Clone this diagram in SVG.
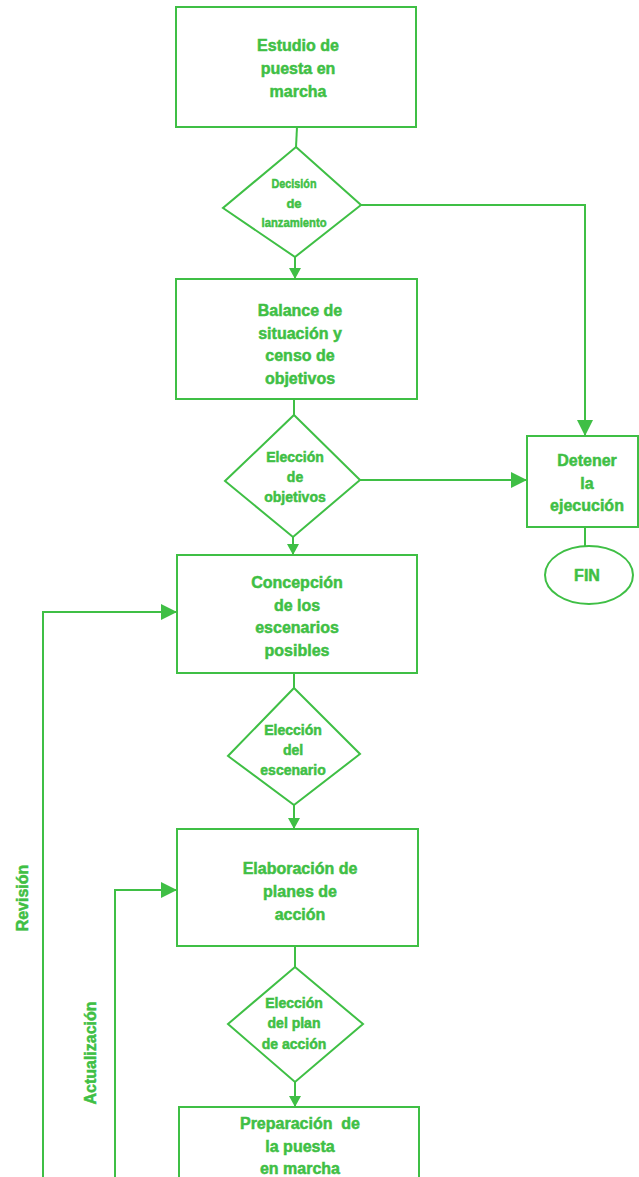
<svg xmlns="http://www.w3.org/2000/svg" width="639" height="1177" viewBox="0 0 639 1177">
<style>
.shape{fill:none;stroke:#3fbf45;stroke-width:2}
.line{fill:none;stroke:#3fbf45;stroke-width:2}
.t{font-family:"Liberation Sans",Arial,sans-serif;font-weight:bold;fill:#3fbf45;stroke:#3fbf45;stroke-width:0.5;text-anchor:middle}
.b{font-size:16px}
.d{font-size:14px}
.s{font-size:13px}
</style>
<defs>
<marker id="aS" markerUnits="userSpaceOnUse" markerWidth="12" markerHeight="12" refX="11" refY="6" orient="auto">
<path d="M0,0 L11,6 L0,12 Z" fill="#3fbf45"/>
</marker>
<marker id="aL" markerUnits="userSpaceOnUse" markerWidth="17" markerHeight="16" refX="16" refY="8" orient="auto">
<path d="M0,0 L16,8 L0,16 Z" fill="#3fbf45"/>
</marker>
</defs>
<rect width="639" height="1177" fill="#ffffff"/>
<g id="connectors">
<path class="line" d="M297,127 L296,147"/>
<path class="line" d="M295,257 L295,279" marker-end="url(#aS)"/>
<path class="line" d="M361,205 L585,205 L585,436" marker-end="url(#aL)"/>
<path class="line" d="M294,399 L294,415"/>
<path class="line" d="M293,537 L293,555" marker-end="url(#aS)"/>
<path class="line" d="M360,480 L527,480" marker-end="url(#aL)"/>
<path class="line" d="M585,527 L585,546"/>
<path class="line" d="M294,673 L294,688"/>
<path class="line" d="M294,805 L294,829" marker-end="url(#aS)"/>
<path class="line" d="M295,946 L295,967"/>
<path class="line" d="M295,1082 L295,1107" marker-end="url(#aS)"/>
<path class="line" d="M43,1180 L43,612 L177,612" marker-end="url(#aL)"/>
<path class="line" d="M115,1180 L115,890 L177,890" marker-end="url(#aL)"/>
</g>
<g id="n-estudio">
<rect class="shape" x="176" y="7" width="240" height="120"/>
<text class="t b" x="298" y="51">Estudio de</text>
<text class="t b" x="298" y="74">puesta en</text>
<text class="t b" x="298" y="97">marcha</text>
</g>
<g id="n-decision">
<polygon class="shape" points="296,147 361,205 295,257 223,208"/>
<text class="t s" x="294" y="188" textLength="45" lengthAdjust="spacingAndGlyphs">Decisión</text>
<text class="t s" x="294" y="208">de</text>
<text class="t s" x="294" y="227" textLength="65" lengthAdjust="spacingAndGlyphs">lanzamiento</text>
</g>
<g id="n-balance">
<rect class="shape" x="176" y="279" width="241" height="120"/>
<text class="t b" x="300" y="316">Balance de</text>
<text class="t b" x="300" y="339">situación y</text>
<text class="t b" x="300" y="361">censo de</text>
<text class="t b" x="300" y="384">objetivos</text>
</g>
<g id="n-eleccion-obj">
<polygon class="shape" points="294,415 360,480 293,537 225,481"/>
<text class="t d" x="295" y="462">Elección</text>
<text class="t d" x="295" y="482">de</text>
<text class="t d" x="295" y="502">objetivos</text>
</g>
<g id="n-detener">
<rect class="shape" x="527" y="436" width="111" height="91"/>
<text class="t b" x="587" y="466">Detener</text>
<text class="t b" x="587" y="489">la</text>
<text class="t b" x="587" y="511">ejecución</text>
</g>
<g id="n-fin">
<ellipse class="shape" cx="589" cy="575" rx="44" ry="29"/>
<text class="t b" x="587" y="581">FIN</text>
</g>
<g id="n-concepcion">
<rect class="shape" x="177" y="555" width="240" height="118"/>
<text class="t b" x="297" y="588">Concepción</text>
<text class="t b" x="297" y="611">de los</text>
<text class="t b" x="297" y="633">escenarios</text>
<text class="t b" x="297" y="656">posibles</text>
</g>
<g id="n-eleccion-esc">
<polygon class="shape" points="294,688 360,754 294,805 228,756"/>
<text class="t d" x="293" y="735">Elección</text>
<text class="t d" x="293" y="755">del</text>
<text class="t d" x="293" y="775">escenario</text>
</g>
<g id="n-elaboracion">
<rect class="shape" x="177" y="829" width="241" height="117"/>
<text class="t b" x="300" y="874">Elaboración de</text>
<text class="t b" x="300" y="897">planes de</text>
<text class="t b" x="300" y="920">acción</text>
</g>
<g id="n-eleccion-plan">
<polygon class="shape" points="295,967 363,1024 295,1082 228,1024"/>
<text class="t d" x="294" y="1008">Elección</text>
<text class="t d" x="294" y="1028">del plan</text>
<text class="t d" x="294" y="1049">de acción</text>
</g>
<g id="n-preparacion">
<rect class="shape" x="179" y="1107" width="240" height="100"/>
<text class="t b" x="300" y="1129" xml:space="preserve">Preparación  de</text>
<text class="t b" x="300" y="1152">la puesta</text>
<text class="t b" x="300" y="1174">en marcha</text>
</g>
<g id="labels">
<text class="t b" transform="translate(28,898) rotate(-90)">Revisión</text>
<text class="t b" transform="translate(96,1053) rotate(-90)">Actualización</text>
</g>
</svg>
